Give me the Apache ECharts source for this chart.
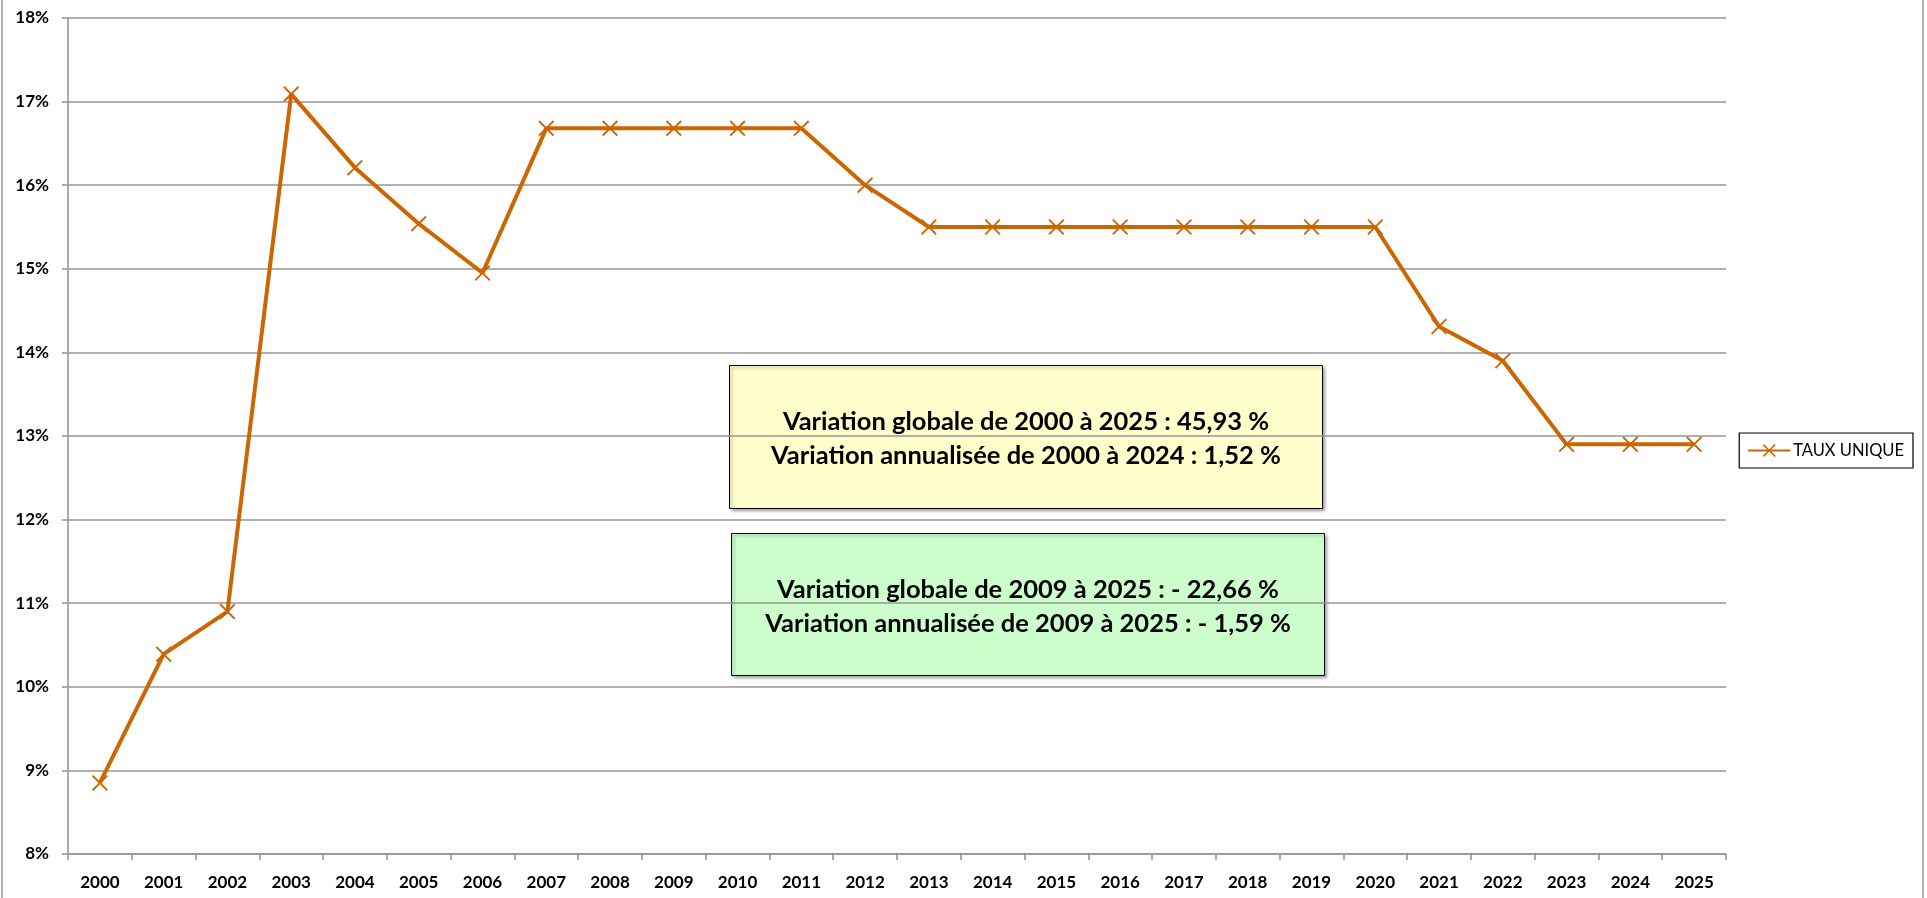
<!DOCTYPE html>
<html>
<head>
<meta charset="utf-8">
<script src="https://cdn.jsdelivr.net/npm/echarts@6/dist/echarts.min.js"></script>
<style>html,body{margin:0;padding:0;background:#fff}#c{width:1927px;height:898px}</style>
</head>
<body>
<div id="c"></div>
<script>
const years = ['2000','2001','2002','2003','2004','2005','2006','2007','2008','2009','2010','2011','2012','2013','2014','2015','2016','2017','2018','2019','2020','2021','2022','2023','2024','2025'];
const tauxUnique = [8.85,10.39,10.9,17.09,16.21,15.54,14.95,16.68,16.68,16.68,16.68,16.68,16.0,15.5,15.5,15.5,15.5,15.5,15.5,15.5,15.5,14.31,13.9,12.9,12.9,12.9];
const seriesName = 'TAUX UNIQUE';
const box1Lines = ['Variation globale de 2000 à 2025 : 45,93 %','Variation annualisée de 2000 à 2024 : 1,52 %'];
const box2Lines = ['Variation globale de 2009 à 2025 : - 22,66 %','Variation annualisée de 2009 à 2025 : - 1,59 %'];

const chart = echarts.init(document.getElementById('c'));
const cross = 'path://M0,1L1,0L6,5L11,0L12,1L7,6L12,11L11,12L6,7L1,12L0,11L5,6Z';
const font = 'Lato, "Open Sans", sans-serif';
function box(x, y, w, h, fill, lines) {
  return {
    type: 'group', left: x, top: y, z: 50,
    children: [
      { type: 'rect', shape: { x: 0, y: 0, width: w, height: h },
        style: { fill: fill, stroke: '#000', lineWidth: 1, shadowBlur: 3, shadowOffsetX: 2, shadowOffsetY: 2, shadowColor: 'rgba(0,0,0,0.35)' } },
      { type: 'text', x: w / 2, y: h / 2 + 2,
        style: { text: lines.join('\n'), fill: '#000', font: 'bold 25.5px ' + font, lineHeight: 34, align: 'center', verticalAlign: 'middle' } }
    ]
  };
}
chart.setOption({
  animation: false,
  grid: { left: 68, right: 201, top: 18, bottom: 44, containLabel: false },
  legend: {
    data: [seriesName], right: 14, top: 433, orient: 'vertical',
    padding: [9, 9, 9, 8], itemWidth: 42, itemHeight: 16, itemGap: 0,
    borderColor: '#000', borderWidth: 1.2,
    textStyle: { fontFamily: font, fontSize: 16.5, color: '#000', padding: [0, 0, 0, -2] }
  },
  xAxis: {
    type: 'category', data: years, boundaryGap: true,
    axisLine: { lineStyle: { color: '#969696', width: 1.6 } },
    axisTick: { show: true, length: 6, alignWithLabel: false, lineStyle: { color: '#969696', width: 1.6 } },
    axisLabel: { margin: 20, color: '#000', fontFamily: font, fontWeight: 'bold', fontSize: 17, interval: 0 }
  },
  yAxis: {
    type: 'value', min: 8, max: 18, interval: 1,
    axisLine: { show: true, lineStyle: { color: '#969696', width: 1.6 } },
    axisTick: { show: true, length: 6, lineStyle: { color: '#969696', width: 1.6 } },
    splitLine: { lineStyle: { color: '#969696', width: 1.6 } },
    axisLabel: { margin: 19, color: '#000', fontFamily: font, fontWeight: 'bold', fontSize: 17, formatter: v => v + '%' }
  },
  series: [{
    name: seriesName, type: 'line', data: tauxUnique,
    symbol: cross, symbolSize: 16, showAllSymbol: true,
    lineStyle: { color: '#CC6600', width: 4 },
    itemStyle: { color: '#CC6600' },
    z: 3
  }],
  graphic: [
    { type: 'line', shape: { x1: 2, y1: 0, x2: 2, y2: 898 }, style: { stroke: '#9a9a9a', lineWidth: 1.5 } },
    { type: 'line', shape: { x1: 1923, y1: 0, x2: 1923, y2: 898 }, style: { stroke: '#9a9a9a', lineWidth: 1.5 } },
    box(729, 365, 593, 143, '#FFFFCC', box1Lines),
    box(731, 533, 593, 142, '#CCFFCC', box2Lines)
  ]
});
</script>
</body>
</html>
